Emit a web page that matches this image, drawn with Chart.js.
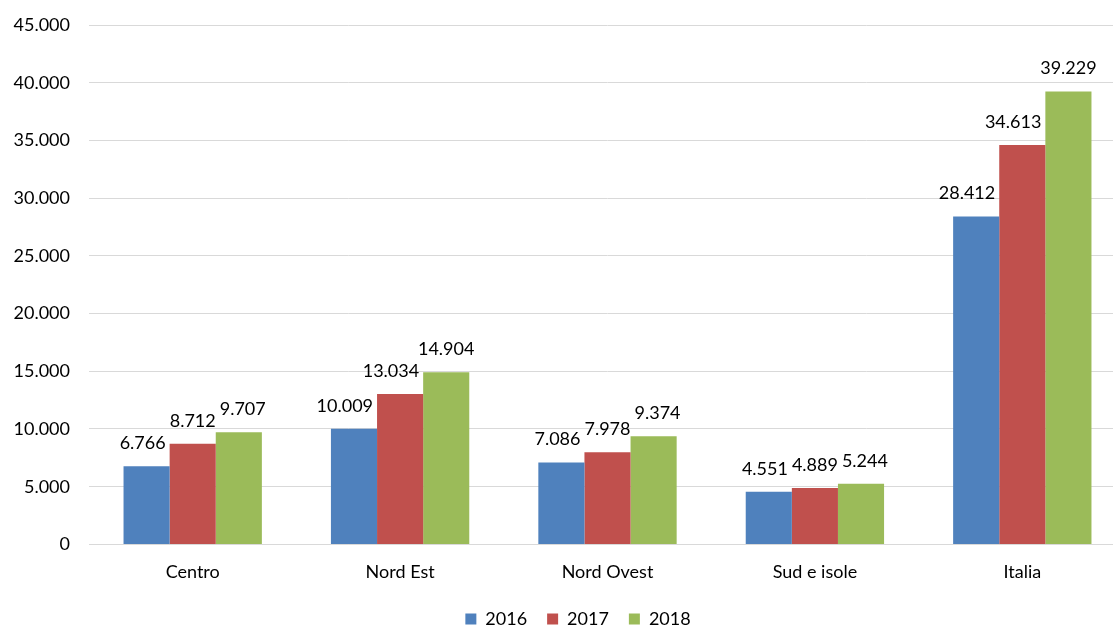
<!DOCTYPE html>
<html>
<head>
<meta charset="utf-8">
<script src="https://cdn.jsdelivr.net/npm/chart.js@4/dist/chart.umd.min.js"></script>
<style>
html,body{margin:0;padding:0;background:#fff;overflow:hidden;}
#wrap{width:1156px;height:638px;position:relative;}
</style>
</head>
<body>
<div id="wrap"><canvas id="c"></canvas></div>
<script>
const categories = ["Centro", "Nord Est", "Nord Ovest", "Sud e isole", "Italia"];
const seriesLabels = ["2016", "2017", "2018"];
const values2016 = [6766, 10009, 7086, 4551, 28412];
const values2017 = [8712, 13034, 7978, 4889, 34613];
const values2018 = [9707, 14904, 9374, 5244, 39229];
const yTicks = [0, 5000, 10000, 15000, 20000, 25000, 30000, 35000, 40000, 45000];
const colors = ["#4F81BD", "#C0504D", "#9BBB59"];

const FONT = "Lato";
function fmt(v){ return String(Math.round(v)).replace(/\B(?=(\d{3})+(?!\d))/g, "."); }

const labelPlugin = {
  id: "valueLabels",
  afterDatasetsDraw(chart){
    const ctx = chart.ctx;
    ctx.save();
    ctx.font = "18px " + FONT;
    ctx.fillStyle = "#000";
    ctx.textAlign = "center";
    ctx.textBaseline = "middle";
    const nDs = chart.data.datasets.length;
    const nCat = chart.data.labels.length;
    const OFF = 23, HALF = 6, GAP = 4;
    for (let c = 0; c < nCat; c++) {
      const items = [];
      for (let d = 0; d < nDs; d++) {
        const el = chart.getDatasetMeta(d).data[c];
        const txt = fmt(chart.data.datasets[d].data[c]);
        const w = ctx.measureText(txt).width;
        items.push({txt, w, x: el.x, y: el.y - OFF, top: el.y, left: el.x - el.width/2, right: el.x + el.width/2});
      }
      for (let i = 0; i < items.length; i++) {
        const it = items[i];
        const nx = items[i+1];
        if (nx && nx.top < it.y + HALF - 1 && it.x + it.w/2 > nx.left - GAP) {
          it.x = nx.left - GAP - it.w/2;
        }
      }
      for (let i = 0; i < items.length - 1; i++) {
        const a = items[i], b = items[i+1];
        if (Math.abs(a.y - b.y) < 18) {
          const overlap = (a.x + a.w/2 + GAP) - (b.x - b.w/2);
          if (overlap > 0) {
            if (i + 1 === items.length - 1) b.x += overlap;
            else a.x -= overlap;
          }
        }
      }
      items.forEach(it => ctx.fillText(it.txt, it.x, it.y));
    }
    ctx.restore();
  }
};

const legendShift = {
  id: "legendShift",
  afterLayout(chart){
    if (chart.legend) { chart.legend.left += 15; chart.legend.right += 15; }
  }
};

new Chart(document.getElementById("c"), {
  type: "bar",
  data: {
    labels: categories,
    datasets: [
      {label: seriesLabels[0], data: values2016, backgroundColor: colors[0]},
      {label: seriesLabels[1], data: values2017, backgroundColor: colors[1]},
      {label: seriesLabels[2], data: values2018, backgroundColor: colors[2]}
    ]
  },
  options: {
    responsive: true,
    maintainAspectRatio: false,
    animation: false,
    layout: {padding: {top: 25, right: 30, bottom: 0, left: 0}},
    datasets: {bar: {categoryPercentage: 0.667, barPercentage: 1.0}},
    plugins: {
      legend: {
        position: "bottom",
        labels: {
          font: {family: FONT, size: 18},
          color: "#000",
          boxWidth: 11,
          boxHeight: 11,
          padding: 20
        }
      },
      tooltip: {enabled: false}
    },
    scales: {
      x: {
        afterFit(scale){ scale.height -= 2; },
        grid: {display: false},
        border: {display: true, color: "#d9d9d9"},
        ticks: {font: {family: FONT, size: 18}, color: "#000", padding: 9}
      },
      y: {
        min: 0, max: 45000,
        afterBuildTicks(scale){ scale.ticks = yTicks.map(v => ({value: v})); },
        afterFit(scale){ scale.width = 89; scale.paddingTop = 0; scale.paddingBottom = 0; },
        grid: {color: "#d9d9d9", lineWidth: 1, drawTicks: false},
        border: {display: false},
        ticks: {font: {family: FONT, size: 18}, color: "#000", padding: 19, callback: v => fmt(v)}
      }
    }
  },
  plugins: [labelPlugin, legendShift]
});
</script>
</body>
</html>
